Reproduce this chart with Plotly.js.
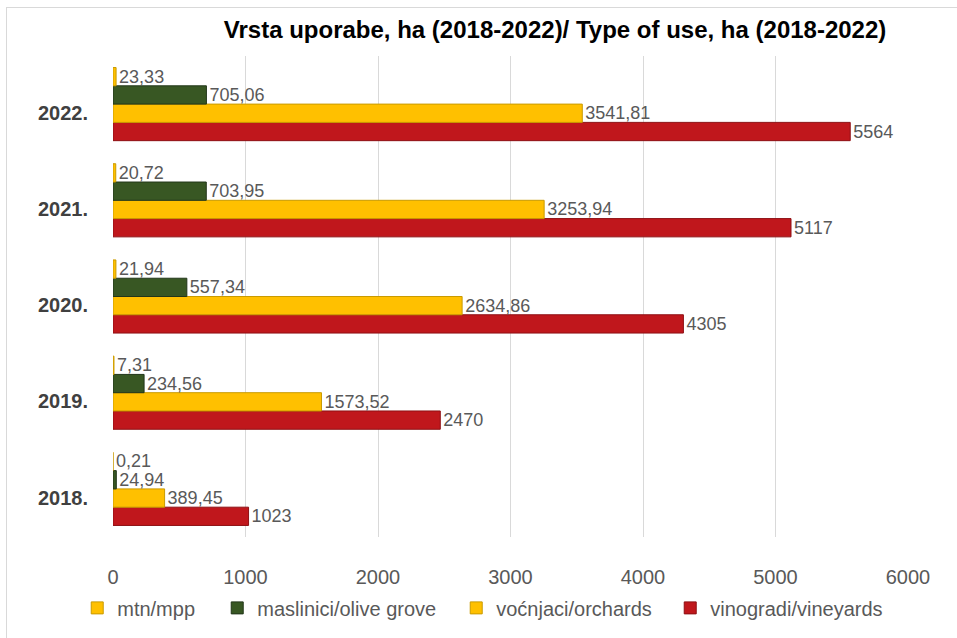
<!DOCTYPE html>
<html>
<head>
<meta charset="utf-8">
<script src="https://cdn.plot.ly/plotly-3.0.1.min.js"></script>
<style>
  html, body { margin: 0; padding: 0; background: #fff; }
  #wrap { position: relative; width: 957px; height: 638px; overflow: hidden; }
  #chart { width: 957px; height: 638px; }
  #frame { position: absolute; left: 6px; top: 7px; width: 960px; height: 640px; border: 1px solid #d9d9d9; pointer-events: none; }
</style>
</head>
<body>
<div id="wrap"><div id="chart"></div><div id="frame"></div></div>
<script>
const years = [2018, 2019, 2020, 2021, 2022];
const yearLabels = ['2018.', '2019.', '2020.', '2021.', '2022.'];
const mtn = [0.21, 7.31, 21.94, 20.72, 23.33];
const olive = [24.94, 234.56, 557.34, 703.95, 705.06];
const orchards = [389.45, 1573.52, 2634.86, 3253.94, 3541.81];
const vineyards = [1023, 2470, 4305, 5117, 5564];
const xTicks = [0, 1000, 2000, 3000, 4000, 5000, 6000];

const fmt = v => String(v).replace('.', ',');

function series(name, vals, color, lineColor, lw) {
  return {
    type: 'bar', orientation: 'h', name: name,
    x: vals, y: years,
    text: vals.map(fmt),
    textposition: 'outside',
    constraintext: 'none',
    cliponaxis: false,
    textfont: { family: 'Liberation Sans, Arial, sans-serif', size: 18, color: '#595959' },
    marker: { color: color, line: { color: lineColor, width: 1 } },
    legendwidth: lw,
    hoverinfo: 'x+name'
  };
}

const data = [
  series('vinogradi/vineyards', vineyards, '#C0171C', '#8E1014', 200),
  series('voćnjaci/orchards', orchards, '#FFC000', '#C99A00', 169),
  series('maslinici/olive grove', olive, '#385723', '#22361A', 194),
  series('mtn/mpp', mtn, '#FFC000', '#C99A00', 95)
];

const layout = {
  width: 957, height: 638,
  margin: { l: 113, r: 49, t: 56, b: 100 },
  paper_bgcolor: '#ffffff', plot_bgcolor: '#ffffff',
  barmode: 'group', bargap: 0.24, bargroupgap: 0,
  font: { family: 'Liberation Sans, Arial, sans-serif', color: '#595959' },
  title: {
    text: 'Vrsta uporabe, ha (2018-2022)/ Type of use, ha (2018-2022)',
    font: { family: 'Liberation Sans, Arial, sans-serif', size: 24, color: '#000000', weight: 'bold' },
    x: 0.58, xref: 'container', xanchor: 'center',
    y: 0.953, yref: 'container', yanchor: 'middle'
  },
  xaxis: {
    range: [0, 6000], tickvals: xTicks, ticktext: xTicks.map(String),
    showgrid: true, gridcolor: '#d9d9d9', gridwidth: 1,
    zeroline: false, showline: false, ticks: '',
    ticklabelstandoff: 26,
    tickfont: { size: 20, color: '#595959' }
  },
  yaxis: {
    range: [2017.5, 2022.5],
    tickvals: years.map(v => v - 0.09), ticktext: yearLabels,
    showgrid: false, zeroline: false, showline: false, ticks: '',
    ticklabelstandoff: 24,
    tickfont: { size: 20, color: '#404040', weight: 'bold' }
  },
  showlegend: true,
  legend: {
    orientation: 'h', traceorder: 'reversed',
    x: -0.045, xanchor: 'left', y: -0.145, yanchor: 'middle',
    font: { size: 20, color: '#595959' },
    itemwidth: 30
  }
};

Plotly.newPlot('chart', data, layout, { displayModeBar: false, staticPlot: true });
</script>
</body>
</html>
